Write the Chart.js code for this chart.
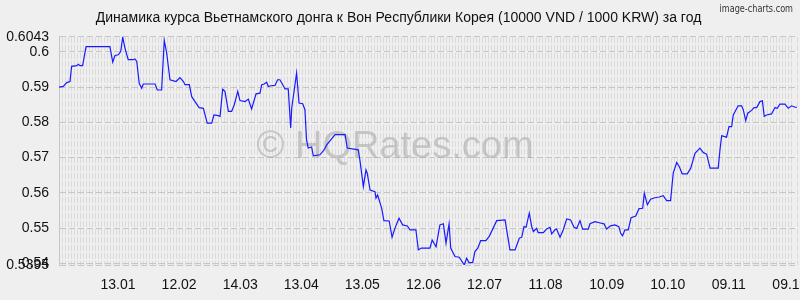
<!DOCTYPE html>
<html>
<head>
<meta charset="utf-8">
<script src="https://cdn.jsdelivr.net/npm/chart.js@4"></script>
<style>
  html, body { margin: 0; padding: 0; background: #efefef; }
  #wrap { width: 800px; height: 300px; }
</style>
</head>
<body>
<div id="wrap"><canvas id="rateChart" width="800" height="300"></canvas></div>
<script>
// day offsets from the first day of the period, and the rate on that day
const days = [0, 2.1, 3.8, 5.4, 6.2, 8.7, 9.5, 10.3, 11.6, 13.3, 25.0, 26.4, 27.5, 29.1, 30.3, 31.3, 32.4, 34.0, 36.5, 37.3,
    38.2, 39.4, 40.6, 41.4, 47.2, 48.3, 50.4, 51.7, 52.9, 54.5, 57.5, 59.4, 61.1, 61.9, 64.0, 65.2, 66.8, 68.8, 70.9, 72.8,
    75.0, 76.1, 78.2, 79.1, 80.4, 81.5, 83.2, 84.8, 86.1, 87.8, 88.9, 91.4, 93.0, 94.6, 96.8, 98.7, 99.6, 100.8, 102.0, 102.8,
    104.0, 106.1, 107.4, 108.5, 109.9, 111.0, 112.6, 113.8, 114.3, 115.6, 116.7, 117.9, 119.7, 120.8, 121.6, 122.4, 124.1, 124.9, 128.2, 130.2,
    131.5, 135.6, 140.5, 141.6, 147.0, 147.8, 149.5, 150.8, 151.4, 152.8, 155.2, 155.7, 156.5, 158.5, 159.6, 162.2, 163.6, 165.0, 167.0, 168.8,
    171.1, 172.4, 175.3, 176.5, 178.1, 182.2, 183.3, 185.2, 187.1, 188.8, 190.1, 191.6, 192.4, 194.5, 196.6, 199.1, 200.2, 201.4, 203.2, 204.3,
    205.7, 207.1, 209.7, 211.4, 215.0, 219.1, 221.5, 224.0, 226.1, 227.3, 228.4, 229.4, 231.0, 232.2, 233.0, 234.6, 235.4, 237.9, 239.5, 241.2,
    242.0, 243.6, 244.4, 246.1, 247.7, 249.4, 251.3, 253.0, 254.3, 255.9, 257.2, 260.0, 260.8, 263.3, 265.4, 267.7, 269.0, 270.9, 273.1, 275.0,
    275.9, 276.8, 278.0, 279.6, 281.0, 283.3, 284.9, 286.7, 287.5, 289.0, 290.6, 292.7, 294.8, 296.8, 298.5, 300.4, 301.7, 303.4, 304.7, 306.1,
    308.6, 310.3, 312.4, 314.8, 316.5, 318.1, 319.8, 323.8, 324.7, 325.5, 327.9, 329.1, 330.4, 331.2, 333.6, 335.3, 336.1, 337.3, 338.3, 340.2,
    341.4, 342.7, 344.3, 345.5, 346.4, 347.6, 350.0, 351.7, 352.8, 354.1, 356.6, 358.2, 359.9, 361.5, 362.5];
const rates = [0.5900, 0.5902, 0.5913, 0.5916, 0.5959, 0.5961, 0.5965, 0.5961, 0.5961, 0.6015, 0.6015, 0.5971, 0.5990, 0.5992, 0.6001, 0.6042, 0.6011, 0.5978, 0.5978, 0.5980,
    0.5973, 0.5911, 0.5897, 0.5909, 0.5909, 0.5892, 0.5892, 0.6033, 0.5997, 0.5921, 0.5916, 0.5927, 0.5916, 0.5907, 0.5907, 0.5873, 0.5859, 0.5842, 0.5840, 0.5798,
    0.5798, 0.5821, 0.5819, 0.5817, 0.5894, 0.5888, 0.5831, 0.5831, 0.5850, 0.5888, 0.5862, 0.5859, 0.5866, 0.5838, 0.5881, 0.5883, 0.5907, 0.5909, 0.5914, 0.5902,
    0.5904, 0.5905, 0.5921, 0.5921, 0.5907, 0.5895, 0.5895, 0.5784, 0.5840, 0.5894, 0.5940, 0.5855, 0.5853, 0.5836, 0.5750, 0.5727, 0.5730, 0.5705, 0.5708, 0.5722,
    0.5736, 0.5765, 0.5765, 0.5727, 0.5722, 0.5693, 0.5618, 0.5665, 0.5656, 0.5608, 0.5603, 0.5585, 0.5594, 0.5556, 0.5521, 0.5520, 0.5474, 0.5499, 0.5528, 0.5509,
    0.5506, 0.5495, 0.5495, 0.5438, 0.5443, 0.5443, 0.5466, 0.5447, 0.5509, 0.5512, 0.5457, 0.5512, 0.5443, 0.5419, 0.5417, 0.5395, 0.5414, 0.5402, 0.5402, 0.5433,
    0.5443, 0.5464, 0.5464, 0.5477, 0.5521, 0.5523, 0.5438, 0.5438, 0.5471, 0.5474, 0.5504, 0.5502, 0.5542, 0.5504, 0.5490, 0.5499, 0.5487, 0.5487, 0.5497, 0.5502,
    0.5483, 0.5495, 0.5497, 0.5474, 0.5495, 0.5526, 0.5523, 0.5502, 0.5499, 0.5521, 0.5497, 0.5497, 0.5512, 0.5518, 0.5515, 0.5512, 0.5497, 0.5506, 0.5509, 0.5504,
    0.5485, 0.5478, 0.5495, 0.5495, 0.5529, 0.5534, 0.5555, 0.5556, 0.5599, 0.5566, 0.5582, 0.5586, 0.5588, 0.5592, 0.5578, 0.5578, 0.5656, 0.5686, 0.5674, 0.5654,
    0.5654, 0.5670, 0.5712, 0.5727, 0.5714, 0.5710, 0.5670, 0.5670, 0.5724, 0.5762, 0.5758, 0.5788, 0.5788, 0.5821, 0.5847, 0.5847, 0.5836, 0.5805, 0.5826, 0.5834,
    0.5842, 0.5842, 0.5859, 0.5861, 0.5817, 0.5821, 0.5824, 0.5842, 0.5840, 0.5852, 0.5852, 0.5840, 0.5847, 0.5843, 0.5843];

const tickDays = [29, 59, 89, 119, 149, 179, 209, 239, 269, 299, 329, 359];
const tickLabels = ['13.01', '12.02', '14.03', '13.04', '13.05', '12.06', '12.07', '11.08', '10.09', '10.10', '09.11', '09.12'];
const yTicks = [0.5395, 0.54, 0.55, 0.56, 0.57, 0.58, 0.59, 0.6, 0.6043];
const yTickLabels = ['0.5395', '0.54', '0.55', '0.56', '0.57', '0.58', '0.59', '0.6', '0.6043'];

const titleText = 'Динамика курса Вьетнамского донга к Вон Республики Корея (10000 VND / 1000 KRW) за год';

Chart.defaults.font.family = 'Arial, "Liberation Sans", sans-serif';
Chart.defaults.color = '#111';

// watermark and the small credit in the corner
const decorations = {
    id: 'decorations',
    beforeDatasetsDraw(chart) {
        const ctx = chart.ctx;
        ctx.save();
        ctx.fillStyle = 'rgba(160,160,160,0.5)';
        ctx.font = '38px Arial, "Liberation Sans", sans-serif';
        ctx.textAlign = 'center';
        ctx.textBaseline = 'middle';
        ctx.fillText('© HQRates.com', 395, 148);
        ctx.restore();
    },
    afterDraw(chart) {
        const ctx = chart.ctx;
        ctx.save();
        ctx.fillStyle = '#333';
        ctx.font = '11px "DejaVu Sans Condensed", "DejaVu Sans", sans-serif';
        ctx.textAlign = 'right';
        ctx.textBaseline = 'middle';
        ctx.translate(793, 9);
        ctx.scale(0.82, 1);
        ctx.fillText('image-charts.com', 0, 0);
        ctx.restore();
    }
};

const chart = new Chart(document.getElementById('rateChart').getContext('2d'), {
    type: 'line',
    data: {
        datasets: [{
            data: days.map((d, i) => ({ x: d, y: rates[i] })),
            borderColor: '#1a1aff',
            borderWidth: 1.2,
            pointRadius: 0,
            tension: 0,
            fill: false
        }]
    },
    options: {
        responsive: false,
        animation: false,
        layout: { padding: { left: 0, right: 3, top: 0, bottom: 0 } },
        plugins: {
            legend: { display: false },
            tooltip: { enabled: false },
            title: {
                display: true,
                text: titleText,
                color: '#111',
                font: { size: 14, weight: 'normal' },
                padding: { top: 10, bottom: 10 }
            }
        },
        scales: {
            x: {
                type: 'linear',
                min: 0,
                max: 362.5,
                afterBuildTicks: s => { s.ticks = tickDays.map(v => ({ value: v })); },
                afterFit: s => { s.height = 35; s.paddingLeft = 0; s.paddingRight = 0; },
                ticks: {
                    autoSkip: false,
                    maxRotation: 0,
                    padding: 12,
                    font: { size: 14 },
                    color: '#111',
                    callback: (v, i) => tickLabels[i]
                },
                grid: { display: false, drawTicks: false },
                border: { display: false }
            },
            xg: {
                type: 'linear',
                position: 'bottom',
                min: 0,
                max: 362.5,
                afterFit: s => { s.height = 0; s.paddingLeft = 0; s.paddingRight = 0; },
                ticks: { display: false, stepSize: 1.475 },
                grid: { color: '#dadada', lineWidth: 1, drawTicks: false },
                border: { display: false, dash: [6, 2] }
            },
            y: {
                min: 0.5395,
                max: 0.6043,
                afterBuildTicks: s => { s.ticks = yTicks.map(v => ({ value: v })); },
                afterFit: s => { s.width = 59; s.paddingTop = 0; s.paddingBottom = 0; },
                ticks: {
                    autoSkip: false,
                    padding: 10,
                    font: { size: 14 },
                    color: '#111',
                    callback: (v, i) => yTickLabels[i]
                },
                grid: { color: '#c6c6c6', lineWidth: 1, drawTicks: false },
                border: { display: true, color: '#c6c6c6', width: 1, dash: [6, 3] }
            }
        }
    },
    plugins: [decorations]
});
</script>
</body>
</html>
